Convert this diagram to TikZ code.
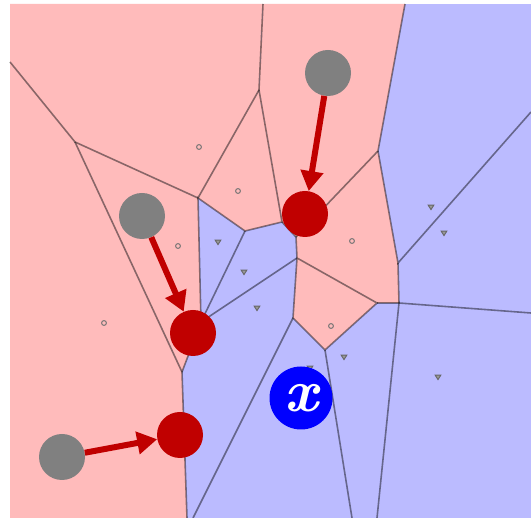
\documentclass[tikz,border=0pt]{standalone}
\usepackage{fontspec}
\usetikzlibrary{arrows.meta}
\definecolor{cellpink}{RGB}{255,187,187}
\definecolor{cellblue}{RGB}{187,187,255}
\definecolor{movered}{RGB}{192,0,0}
\tikzset{
  cut/.style={black, draw opacity=0.45, line width=1.6pt},
  sitep/.style={draw=black!55, line width=1pt},
  siteb/.style={draw=black!60, fill=black!40, line width=0.9pt},
  oldpt/.style={circle, fill=black!50, minimum size=46pt, inner sep=0pt},
  newpt/.style={circle, fill=movered, minimum size=46pt, inner sep=0pt},
  move/.style={movered, line width=6pt, -{Triangle[length=20pt,width=22pt]}}
}

\begin{document}
\begin{tikzpicture}[x=1pt,y=-1pt]
\useasboundingbox (0,0) rectangle (531,518);
\coordinate (A) at (75,142);
\coordinate (B) at (198,198);
\coordinate (C) at (259,90);
\coordinate (D) at (245,231);
\coordinate (E) at (282,222);
\coordinate (G) at (296,237);
\coordinate (F) at (378,151);
\coordinate (H) at (297,258);
\coordinate (I) at (293,318);
\coordinate (J) at (325,350);
\coordinate (K) at (377,303);
\coordinate (L) at (398,263);
\coordinate (M) at (399,303);
\coordinate (N) at (201,322);
\coordinate (O) at (182,372);
\coordinate (t1) at (263,4);
\coordinate (t2) at (405,4);
\coordinate (l1) at (10,62);
\coordinate (r1) at (531,112);
\coordinate (r2) at (531,313);
\coordinate (b1) at (187,518);
\coordinate (b2) at (193,518);
\coordinate (b3) at (352,518);
\coordinate (b4) at (377,518);
\fill[cellblue] (10,4) rectangle (531,518);
\fill[cellpink] (10,4) -- (t1) -- (C) -- (B) -- (A) -- (l1) -- cycle;
\fill[cellpink] (l1) -- (A) -- (O) -- (b1) -- (10,518) -- cycle;
\fill[cellpink] (A) -- (B) -- (N) -- (O) -- cycle;
\fill[cellpink] (B) -- (C) -- (E) -- (D) -- cycle;
\fill[cellpink] (C) -- (t1) -- (t2) -- (F) -- (G) -- (E) -- cycle;
\fill[cellpink] (G) -- (F) -- (L) -- (M) -- (K) -- (H) -- cycle;
\fill[cellpink] (H) -- (I) -- (J) -- (K) -- cycle;
\draw[cut] (l1) -- (A) -- (B) -- (C) -- (t1);
\draw[cut] (A) -- (O) -- (b1);
\draw[cut] (O) -- (N) -- (B) -- (D) -- (E) -- (C);
\draw[cut] (D) -- (N) -- (H);
\draw[cut] (E) -- (G) -- (H) -- (I) -- (J) -- (K) -- (H);
\draw[cut] (G) -- (F) -- (t2);
\draw[cut] (F) -- (L) -- (r1);
\draw[cut] (L) -- (M) -- (r2);
\draw[cut] (K) -- (M) -- (b4);
\draw[cut] (I) -- (b2);
\draw[cut] (J) -- (b3);
\foreach \p in {(199,147),(238,191),(178,246),(104,323),(352,241),(331,326)}
  \draw[sitep] \p circle (2.4);
\foreach \x/\y in {218/242,244/272,257/308,344/357,438/377,431/207,444/233,310/368}
  \draw[siteb] (\x-2.8,\y-1.8) -- (\x+2.8,\y-1.8) -- (\x,\y+2.6) -- cycle;
\node[oldpt] (o1) at (328,73) {};
\node[oldpt] (o2) at (142,216) {};
\node[oldpt] (o3) at (62,457) {};
\node[newpt] (n1) at (305,214) {};
\node[newpt] (n2) at (193,333) {};
\node[newpt] (n3) at (180,435) {};
\node[circle, fill=blue, minimum size=63pt, inner sep=0pt, text=white,
  font=\fontsize{60}{60}\selectfont\bfseries\itshape] (query) at (301,398) {x};
\draw[move] (o1) -- (n1);
\draw[move] (o2) -- (n2);
\draw[move] (o3) -- (n3);
\end{tikzpicture}
\end{document}
